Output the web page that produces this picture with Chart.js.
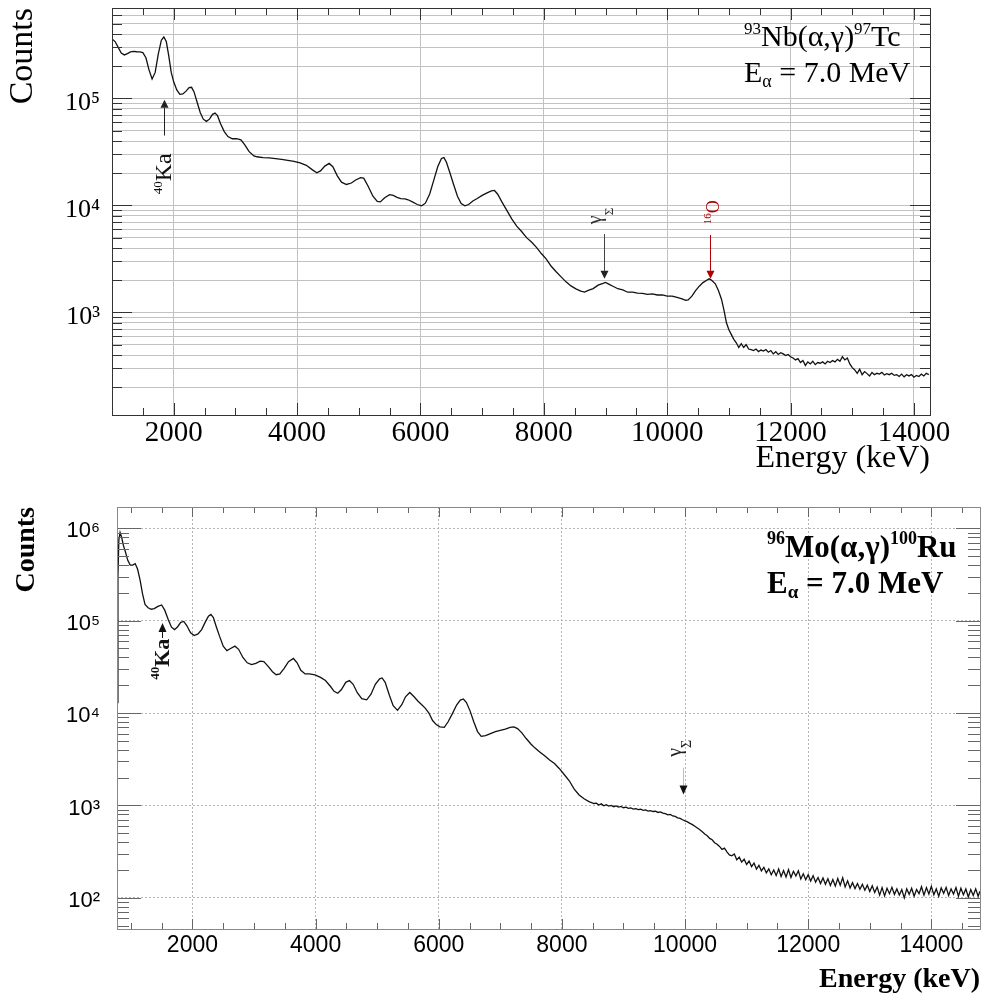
<!DOCTYPE html>
<html><head><meta charset="utf-8">
<script src="https://cdn.jsdelivr.net/npm/chart.js@4.4.1/dist/chart.umd.min.js"></script>
<style>
html,body{margin:0;padding:0;background:#fff;}
canvas{position:absolute;left:0;}
#c1{top:0;}
#c2{top:490px;}
</style></head><body>
<canvas id="c1" width="987" height="490"></canvas>
<canvas id="c2" width="987" height="507"></canvas>
<script>
// ---------------- DATA ----------------
// Upper panel: 93Nb(a,g)97Tc, E_alpha = 7.0 MeV
const topEnergy = [
 1000,1050,1100,1150,1200,1250,1300,1350,1400,1450,
 1500,1550,1600,1650,1700,1750,1800,1840,1880,1920,
 1960,2000,2050,2100,2150,2200,2250,2290,2330,2380,
 2430,2480,2530,2580,2630,2670,2710,2760,2820,2880,
 2950,3020,3090,3150,3220,3300,3350,3450,3550,3650,
 3750,3850,3950,4050,4150,4250,4320,4380,4450,4520,
 4580,4650,4720,4800,4880,4950,5030,5080,5150,5230,
 5300,5350,5420,5500,5560,5620,5680,5750,5800,5870,
 5950,6020,6080,6150,6220,6280,6340,6380,6420,6480,
 6540,6600,6660,6720,6780,6850,6920,7000,7080,7150,
 7200,7250,7320,7400,7480,7560,7640,7720,7800,7880,
 7960,8040,8120,8200,8280,8360,8440,8520,8600,8660,
 8720,8800,8880,8960,9000,9060,9120,9200,9280,9360,
 9440,9520,9600,9680,9760,9840,9920,10000,10080,10160,
 10240,10300,10340,10400,10460,10520,10580,10640,10680,10720,
 10780,10830,10880,10920,10960,11000,11040,11080,11120,11160,
 11200,11240,11280,11320,11360,11400,11440,11480,11520,11560,
 11600,11640,11680,11720,11760,11800,11840,11880,11920,11960,
 12000,12040,12080,12120,12160,12200,12240,12280,12320,12360,
 12400,12440,12480,12520,12560,12600,12640,12680,12720,12760,
 12800,12840,12880,12920,12960,13000,13040,13080,13120,13160,
 13200,13240,13280,13320,13360,13400,13440,13480,13520,13560,
 13600,13640,13680,13720,13760,13800,13840,13880,13920,13960,
 14000,14040,14080,14120,14160,14200,14240
];
const topCounts = [
 360000,340000,300000,265000,255000,262000,272000,275000,273000,272000,
 268000,240000,185000,152000,175000,260000,350000,375000,340000,250000,
 175000,143000,120000,109000,110000,117000,126000,127000,115000,92000,
 74000,64000,61000,64000,71000,73000,69000,58000,49000,44000,
 42000,42000,41000,37000,32000,29000,28500,28000,27800,27400,
 27000,26400,25800,25000,23700,21500,20200,21000,23300,24700,
 23000,19000,16500,15700,16200,17300,18200,18000,15200,12200,
 10900,10800,11800,12600,12400,11900,11600,11500,11300,10800,
 10200,9900,10500,12800,17500,23000,27500,28000,25500,20000,
 15500,12200,10400,9900,10200,11000,11600,12400,13100,13700,
 13800,12800,10800,9000,7500,6400,5700,5000,4550,4050,
 3550,3150,2700,2400,2150,1930,1770,1660,1580,1550,
 1610,1670,1800,1870,1910,1830,1755,1665,1625,1545,
 1545,1515,1510,1475,1490,1455,1460,1420,1420,1380,
 1340,1300,1310,1420,1600,1760,1900,2000,2060,2000,
 1850,1600,1330,1050,800,690,620,560,520,470,
 510,470,500,455,450,440,455,430,445,435,
 450,425,440,410,430,405,420,410,395,405,
 385,375,360,370,340,355,320,345,330,350,
 325,340,335,345,330,350,340,355,345,365,
 350,385,360,375,330,305,290,270,295,262,
 280,268,255,275,262,270,265,275,260,268,
 262,270,258,262,252,265,250,262,255,262,
 248,258,252,265,255,270,262
];

// Lower panel: 96Mo(a,g)100Ru, E_alpha = 7.0 MeV
const botEnergy = [
 778,790,805,825,850,880,910,950,990,1030,
 1070,1110,1150,1190,1230,1280,1330,1380,1440,1500,
 1550,1610,1660,1710,1760,1810,1860,1910,1970,2030,
 2090,2150,2210,2260,2300,2340,2390,2440,2500,2560,
 2620,2690,2750,2820,2890,2960,3030,3100,3160,3230,
 3300,3360,3420,3490,3560,3640,3700,3760,3830,3900,
 3990,4080,4160,4240,4300,4360,4420,4490,4550,4610,
 4680,4750,4830,4900,4970,5040,5080,5130,5200,5260,
 5330,5400,5460,5530,5600,5660,5720,5780,5840,5900,
 5960,6020,6090,6150,6220,6290,6350,6400,6450,6510,
 6570,6630,6690,6760,6840,6920,7000,7080,7160,7220,
 7280,7350,7420,7500,7560,7640,7720,7800,7880,7960,
 8040,8120,8200,8280,8360,8440,8520,8560,8600,8640,
 8680,8720,8760,8800,8840,8880,8920,8960,9000,9040,
 9080,9120,9160,9200,9240,9280,9320,9360,9400,9440,
 9480,9520,9560,9600,9640,9680,9720,9760,9800,9840,
 9880,9920,9960,10000,10040,10080,10120,10160,10200,10240,
 10280,10320,10360,10400,10440,10480,10520,10560,10600,10640,
 10680,10720,10760,10800,10840,10880,10920,10960,11000,11040,
 11080,11120,11160,11200,11240,11280,11320,11360,11400,11440,
 11480,11520,11560,11600,11640,11680,11720,11760,11800,11840,
 11880,11920,11960,12000,12040,12080,12120,12160,12200,12240,
 12280,12320,12360,12400,12440,12480,12520,12560,12600,12640,
 12680,12720,12760,12800,12840,12880,12920,12960,13000,13040,
 13080,13120,13160,13200,13240,13280,13320,13360,13400,13440,
 13480,13520,13560,13600,13640,13680,13720,13760,13800,13840,
 13880,13920,13960,14000,14040,14080,14120,14160,14200,14240,
 14280,14320,14360,14400,14440,14480,14520,14560,14600,14640,
 14680,14720,14760,14790
];
const botCounts = [
 13000,300000,750000,900000,800000,650000,560000,450000,400000,400000,
 415000,360000,275000,195000,150000,138000,133000,135000,143000,148000,
 130000,102000,85000,80000,86000,96000,98000,88000,74000,69000,
 72000,80000,97000,112000,117000,108000,85000,68000,53000,47500,
 50000,53000,49000,40000,35000,33500,34500,36500,36000,32000,
 28000,26000,26500,30500,36000,39000,35000,29000,26500,26500,
 25900,24300,22500,19500,17200,16400,18000,21500,22500,20500,
 16500,14300,13900,16000,20500,23500,24000,21500,15500,12000,
 10700,12300,15000,16700,15000,13500,12400,11300,10000,8300,
 7500,7100,7000,8000,9800,12200,13800,14200,13000,10500,
 8000,6300,5600,5700,6000,6300,6500,6700,7000,7100,
 6800,6100,5300,4600,4200,3800,3450,3100,2850,2500,
 2150,1850,1500,1300,1180,1100,1050,1060,1010,1040,
 990,1020,985,1000,970,990,960,975,945,960,
 930,940,915,925,900,910,885,895,870,880,
 860,865,840,850,825,815,790,800,770,760,
 735,725,700,680,665,640,620,595,570,545,
 520,490,470,440,425,395,380,360,335,345,
 315,292,285,298,258,276,244,262,230,250,
 218,238,205,225,196,214,186,206,178,200,
 174,205,170,198,168,202,166,194,172,196,
 160,182,157,178,152,174,148,166,143,164,
 140,161,136,158,134,162,137,165,131,153,
 128,146,126,143,124,140,121,137,117,135,
 114,131,107,129,105,127,111,130,109,125,
 107,123,100,125,109,127,104,123,111,132,
 107,129,110,133,108,125,104,128,112,130,
 106,125,110,129,104,127,108,125,102,123,
 106,125,104,118
];

// Axes / tick labels
const xTickValues = [2000, 4000, 6000, 8000, 10000, 12000, 14000];
const topDecades = [100, 1000, 10000, 100000];
const botDecades = [10, 100, 1000, 10000, 100000, 1000000];
const logMultipliers = [1, 2, 3, 4, 5, 6, 7, 8, 9];
const topRange = {xMin: 1000, xMax: 14260, yMin: 110, yMax: 700000};
const botRange = {xMin: 775, xMax: 14790, yMin: 46, yMax: 1700000};

// ---------------- HELPERS ----------------
const SERIF = "'Liberation Serif','DejaVu Serif',serif";
const SANS = "'Liberation Sans','DejaVu Sans',sans-serif";
const SUP = {'0':'\u2070','1':'\u00b9','2':'\u00b2','3':'\u00b3','4':'\u2074','5':'\u2075','6':'\u2076','7':'\u2077','8':'\u2078','9':'\u2079'};
const isDecade = v => Math.abs(Math.log10(v) - Math.round(Math.log10(v))) < 1e-9;
const powLabel = v => '10' + String(Math.round(Math.log10(v))).split('').map(c => SUP[c]).join('');
const logValues = (decades, lo, hi) => {
  const out = [];
  decades.forEach(d => logMultipliers.forEach(m => { const v = d * m; if (v >= lo && v <= hi) out.push(v); }));
  return out;
};
const zeroPad = s => { s.paddingLeft = 0; s.paddingRight = 0; s.paddingTop = 0; s.paddingBottom = 0; };

function drawRich(ctx, x, y, rot, parts, family, bold, color) {
  ctx.save();
  ctx.translate(x, y);
  if (rot) ctx.rotate(rot);
  ctx.fillStyle = color;
  ctx.textAlign = 'left';
  ctx.textBaseline = 'alphabetic';
  let cx = 0;
  parts.forEach(p => {
    ctx.font = (bold ? 'bold ' : '') + p[1] + 'px ' + family;
    ctx.fillText(p[0], cx, p[2] || 0);
    cx += ctx.measureText(p[0]).width;
  });
  ctx.restore();
}

function drawArrow(ctx, xs, ys, a) {
  const px = Math.round(xs.getPixelForValue(a.x)) + 0.5;
  const p0 = ys.getPixelForValue(a.from);
  const p1 = ys.getPixelForValue(a.to);
  const dir = p1 > p0 ? 1 : -1;
  const hl = a.head || 8, hw = (a.headW || 8) / 2;
  ctx.save();
  ctx.strokeStyle = a.shaft || a.color;
  ctx.lineWidth = 1;
  ctx.beginPath();
  ctx.moveTo(px, p0);
  ctx.lineTo(px, p1 - dir * hl);
  ctx.stroke();
  ctx.fillStyle = a.color;
  ctx.beginPath();
  ctx.moveTo(px, p1);
  ctx.lineTo(px - hw, p1 - dir * hl);
  ctx.lineTo(px + hw, p1 - dir * hl);
  ctx.closePath();
  ctx.fill();
  ctx.restore();
}

const decorPlugin = {
  id: 'decor',
  afterDatasetsDraw(chart) {
    const cfg = chart.options.plugins.decor;
    if (!cfg) return;
    const {ctx, chartArea: a} = chart;
    const xs = chart.scales.x, ys = chart.scales.y;
    ctx.save();
    // inside tick marks
    ctx.strokeStyle = cfg.tickColor;
    ctx.lineWidth = 1;
    ctx.beginPath();
    for (let v = cfg.xTickStart; v <= xs.max; v += cfg.xTickStep) {
      if (v < xs.min) continue;
      const px = Math.round(xs.getPixelForValue(v)) + 0.5;
      const len = (v % 2000 === 0) ? cfg.xMajorLen : cfg.xMinorLen;
      ctx.moveTo(px, a.top); ctx.lineTo(px, a.top + len);
      ctx.moveTo(px, a.bottom); ctx.lineTo(px, a.bottom - len);
    }
    logValues(cfg.decades, ys.min, ys.max).forEach(v => {
      const py = Math.round(ys.getPixelForValue(v)) + 0.5;
      const len = isDecade(v) ? cfg.yMajorLen : cfg.yMinorLen;
      ctx.moveTo(a.left, py); ctx.lineTo(a.left + len, py);
      ctx.moveTo(a.right, py); ctx.lineTo(a.right - len, py);
    });
    ctx.stroke();
    // frame
    ctx.strokeStyle = cfg.frameColor;
    ctx.strokeRect(Math.round(a.left) + 0.5, Math.round(a.top) + 0.5, Math.round(a.right - a.left), Math.round(a.bottom - a.top));
    ctx.restore();
    // arrows
    (cfg.arrows || []).forEach(ar => drawArrow(ctx, xs, ys, ar));
    // rotated labels anchored to data
    (cfg.rlabels || []).forEach(l => {
      const bx = xs.getPixelForValue(l.x) + l.dx;
      const by = ys.getPixelForValue(l.y);
      drawRich(ctx, bx, by, -Math.PI / 2, l.parts, l.family, l.bold, l.color);
    });
    // text blocks
    (cfg.blocks || []).forEach(b => drawRich(ctx, b.px, b.py, 0, b.parts, b.family, b.bold, b.color));
  }
};

function makeChart(id, o) {
  const data = o.energy.map((e, i) => ({x: e, y: o.counts[i]}));
  return new Chart(document.getElementById(id), {
    type: 'line',
    data: {datasets: [{
      data, borderColor: '#111', borderWidth: 1.3, pointRadius: 0,
      tension: 0, fill: false
    }]},
    plugins: [decorPlugin],
    options: {
      responsive: false, animation: false, events: [],
      layout: {padding: o.padding},
      plugins: {legend: {display: false}, tooltip: {enabled: false}, decor: o.decor},
      scales: {
        x: {
          type: 'linear', min: o.range.xMin, max: o.range.xMax,
          afterBuildTicks: s => { s.ticks = xTickValues.filter(v => v >= s.min && v <= s.max).map(v => ({value: v})); },
          ticks: {callback: v => String(v), font: o.xTickFont, color: '#000', padding: o.xTickPad, maxRotation: 0, autoSkip: false},
          grid: {color: o.gridColor, lineWidth: 1, drawTicks: false},
          border: {display: false, dash: o.gridDash},
          title: {display: true, text: 'Energy (keV)', align: 'end', font: o.xTitleFont, color: '#000', padding: {top: 0, bottom: o.xTitlePad}},
          afterFit: s => { s.height = o.xAxisHeight; zeroPad(s); }
        },
        y: {
          type: 'logarithmic', min: o.range.yMin, max: o.range.yMax,
          afterBuildTicks: s => { s.ticks = o.yGridValues(s).map(v => ({value: v})); },
          ticks: {callback: v => isDecade(v) ? powLabel(v) : '', font: o.yTickFont, color: '#000', padding: o.yTickPad, labelOffset: o.yLabelOffset, autoSkip: false},
          grid: {color: o.gridColor, lineWidth: 1, drawTicks: false},
          border: {display: false, dash: o.gridDash},
          title: {display: true, text: 'Counts', align: 'end', font: o.yTitleFont, color: '#000', padding: {top: o.yTitlePad, bottom: 0}},
          afterFit: s => { s.width = o.yAxisWidth; zeroPad(s); }
        }
      }
    }
  });
}

// ---------------- TOP PANEL ----------------
makeChart('c1', {
  energy: topEnergy, counts: topCounts, range: topRange,
  padding: {left: 0, top: 8, right: 57, bottom: 0},
  xAxisHeight: 75, yAxisWidth: 112,
  gridColor: '#c2c2c2', gridDash: [],
  yGridValues: s => logValues(topDecades, s.min, s.max),
  xTickFont: {family: SERIF, size: 29}, xTickPad: 1,
  yTickFont: {family: SERIF, size: 26}, yTickPad: 12, yLabelOffset: 5,
  xTitleFont: {family: SERIF, size: 32}, xTitlePad: 12,
  yTitleFont: {family: SERIF, size: 34}, yTitlePad: 3,
  decor: {
    tickColor: '#333', frameColor: '#333',
    xTickStart: 1000, xTickStep: 500, xMajorLen: 12, xMinorLen: 7,
    decades: topDecades, yMajorLen: 20, yMinorLen: 10,
    arrows: [
      {x: 1838, from: 45000, to: 97000, color: '#222'},
      {x: 8976, from: 5400, to: 2060, color: '#222', shaft: '#444'},
      {x: 10696, from: 5300, to: 2060, color: '#b00000'}
    ],
    rlabels: [
      {x: 1838, dx: 7, y: 12700, parts: [['40', 13, -9], ['Ka', 24]], family: SERIF, bold: false, color: '#111'},
      {x: 8976, dx: -3, y: 6680, parts: [['\u03b3', 20], ['\u03a3', 13, 12]], family: SERIF, bold: false, color: '#333'},
      {x: 10696, dx: 9, y: 6680, parts: [['16', 11, -8], ['O', 18]], family: SERIF, bold: false, color: '#b00000'}
    ],
    blocks: [
      {px: 744, py: 46, parts: [['93', 17, -12], ['Nb(\u03b1,\u03b3)', 30], ['97', 17, -12], ['Tc', 30]], family: SERIF, bold: false, color: '#000'},
      {px: 744, py: 82, parts: [['E', 30], ['\u03b1', 18, 5], [' = 7.0 MeV', 30]], family: SERIF, bold: false, color: '#000'}
    ]
  }
});

// ---------------- BOTTOM PANEL ----------------
makeChart('c2', {
  energy: botEnergy, counts: botCounts, range: botRange,
  padding: {left: 0, top: 17, right: 7, bottom: 0},
  xAxisHeight: 68, yAxisWidth: 117,
  gridColor: '#b4b4b4', gridDash: [2, 2],
  yGridValues: s => botDecades.filter(v => v >= s.min && v <= s.max),
  xTickFont: {family: SANS, size: 23}, xTickPad: 3,
  yTickFont: {family: SANS, size: 22}, yTickPad: 17, yLabelOffset: 3,
  xTitleFont: {family: SERIF, size: 28, weight: 'bold'}, xTitlePad: 0,
  yTitleFont: {family: SERIF, size: 28, weight: 'bold'}, yTitlePad: 10,
  decor: {
    tickColor: '#666', frameColor: '#888',
    xTickStart: 1000, xTickStep: 500, xMajorLen: 10, xMinorLen: 6,
    decades: botDecades, yMajorLen: 24, yMinorLen: 12,
    arrows: [
      {x: 1501, from: 65000, to: 94600, color: '#111', head: 9},
      {x: 9965, from: 2560, to: 1310, color: '#111', shaft: '#c0c0c0', head: 9}
    ],
    rlabels: [
      {x: 1501, dx: 7, y: 22900, parts: [['40', 13, -10], ['Ka', 22]], family: SERIF, bold: true, color: '#111'},
      {x: 9965, dx: -2, y: 3365, parts: [['\u03b3', 20], ['\u03a3', 14, 10]], family: SERIF, bold: false, color: '#222'}
    ],
    blocks: [
      {px: 767, py: 67, parts: [['96', 18, -13], ['Mo(\u03b1,\u03b3)', 31], ['100', 18, -13], ['Ru', 31]], family: SERIF, bold: true, color: '#000'},
      {px: 767, py: 103, parts: [['E', 31], ['\u03b1', 19, 5], [' = 7.0 MeV', 31]], family: SERIF, bold: true, color: '#000'}
    ]
  }
});
</script>
</body></html>
